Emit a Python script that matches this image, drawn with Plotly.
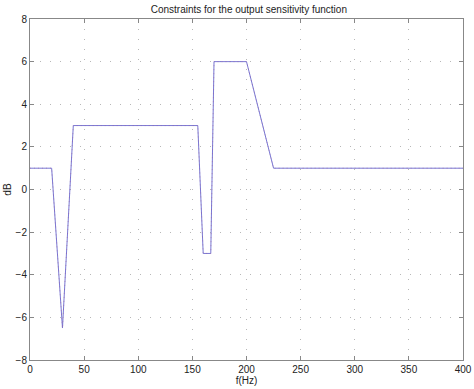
import plotly.graph_objects as go

freq = [0, 20, 30, 40, 155, 160, 167, 170, 200, 225, 400]
gain_db = [1, 1, -6.5, 3, 3, -3, -3, 6, 6, 1, 1]
x_ticks = [0, 50, 100, 150, 200, 250, 300, 350, 400]
y_ticks = [-8, -6, -4, -2, 0, 2, 4, 6, 8]

fig = go.Figure()
fig.add_trace(go.Scatter(x=freq, y=gain_db, mode="lines",
                         line=dict(color="#7878d4", width=1), showlegend=False))
fig.add_trace(go.Scatter(x=freq, y=gain_db, mode="lines",
                         line=dict(color="#a060a0", width=1, dash="1px,3px"), opacity=0.5,
                         showlegend=False))

font = dict(family="Liberation Sans, Arial", size=10, color="#222222")
axis_common = dict(
    showline=True, linecolor="#888888", linewidth=1, mirror="ticks",
    ticks="inside", ticklen=4, tickcolor="#888888",
    showgrid=True, gridcolor="#b8b8b8", griddash="1px,9px", gridwidth=1,
    zeroline=False, tickfont=font, automargin=False,
)

fig.update_layout(
    width=474, height=389,
    margin=dict(l=30, r=11, t=19, b=29),
    paper_bgcolor="white", plot_bgcolor="white",
    title=dict(text="Constraints for the output sensitivity function",
               x=0.525, xanchor="center", y=0.985, yanchor="top",
               font=font),
    xaxis=dict(range=[0, 400], tickvals=x_ticks,
               title=dict(text="f(Hz)", standoff=0, font=font),
               **axis_common),
    yaxis=dict(range=[-8, 8], tickvals=y_ticks,
               title=dict(text="dB", standoff=2, font=font),
               **axis_common),
)

fig.write_html("out.html")
